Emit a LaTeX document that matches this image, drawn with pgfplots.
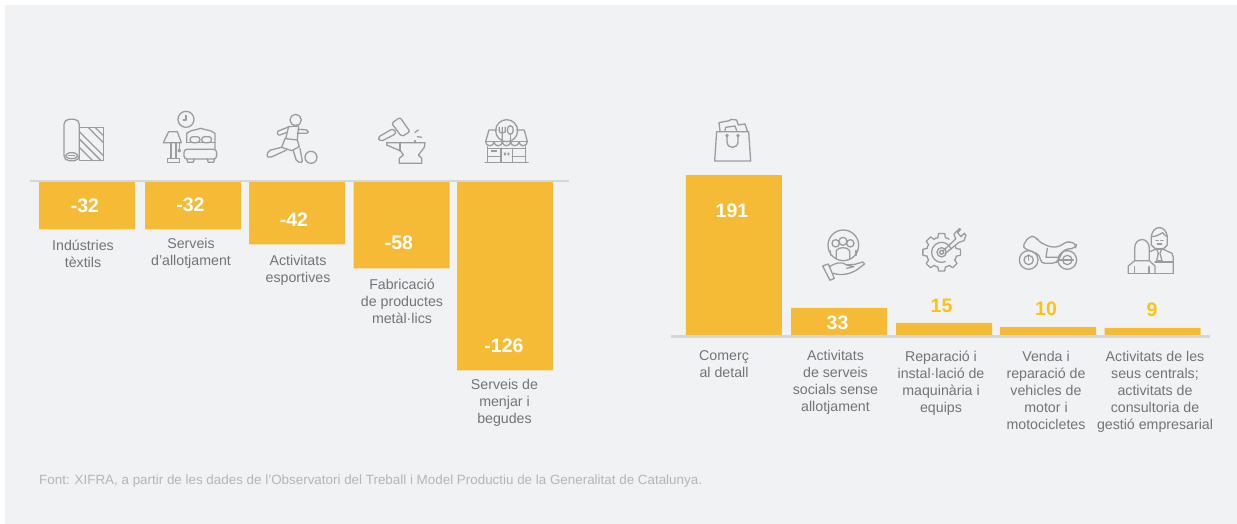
\documentclass[border=0pt]{standalone}
\usepackage{pgfplots}
\pgfplotsset{compat=1.18}
\usepackage{fontspec}
\setmainfont{Liberation Sans}
\definecolor{panel}{HTML}{F1F2F4}
\definecolor{barcol}{HTML}{F6BB36}
\definecolor{rulecol}{HTML}{D5D6D8}
\definecolor{lab}{HTML}{737477}
\definecolor{src}{HTML}{B4B5B8}
\definecolor{outlab}{HTML}{FFC20E}
\definecolor{ico}{HTML}{9B9C9E}
\tikzset{
 ic/.style={draw=ico,line width=1.3pt,line join=round,line cap=round,fill=none},
 cat/.style={text=lab,align=center,font=\fontsize{14.2}{17}\selectfont,inner sep=0pt,anchor=north},
 val/.style={text=white,font=\fontsize{19.5}{21}\selectfont\bfseries,inner sep=0pt},
 vout/.style={text=outlab,font=\fontsize{19.5}{21}\selectfont\bfseries,inner sep=0pt},
 zoomA/.style={x=0.3333pt,y=-0.3333pt,shift={(20pt,434pt)}},
 zoomB/.style={x=0.3333pt,y=-0.3333pt,shift={(340pt,434pt)}},
 zoomC/.style={x=0.3333pt,y=-0.3333pt,shift={(670pt,414pt)}},
 zoomD/.style={x=0.3333pt,y=-0.3333pt,shift={(960pt,304pt)}},
}
\pgfplotsset{
 panelaxis/.style={
  at={(0pt,0pt)},anchor=south west,scale only axis,width=1237pt,height=524pt,
  xmin=0,xmax=1237,axis lines=none,ybar,bar width=96pt,
  enlargelimits=false,
 },
}
\pgfplotstableread{
x v
87 -32
193 -32
297 -42
401.5 -58
505 -126
}\losses
\pgfplotstableread{
x v
733.8 191
839 33
944 15
1048 10
1152.5 9
}\gains
\begin{document}
\begin{tikzpicture}
\fill[white] (0pt,0pt) rectangle (1237pt,524pt);
\fill[panel] (5pt,0pt) rectangle (1237pt,519pt);
% left: baseline at pixel 181.5, 1.5 px per job
\begin{axis}[panelaxis,ymin=-228.33,ymax=121]
\addplot[fill=barcol,draw=none,bar shift=0pt] table[x=x,y=v]{\losses};
\end{axis}
% right: baseline at pixel 335.5, 0.839 px per job
\begin{axis}[panelaxis,ymin=-224.7,ymax=399.9]
\addplot[fill=barcol,draw=none,bar shift=0pt] table[x=x,y=v]{\gains};
\end{axis}
\fill[rulecol] (30.3pt,344.3pt) rectangle (569pt,341.9pt);
\fill[rulecol] (671pt,189pt) rectangle (1209.7pt,186.4pt);
% value labels
\begin{scope}[x=1pt,y=-1pt,yshift=524pt]
\node[val] at (85,206) {-32};
\node[val] at (190.5,205) {-32};
\node[val] at (294,219.5) {-42};
\node[val] at (399,243) {-58};
\node[val] at (504,346) {-126};
\node[val] at (732,211) {191};
\node[val] at (837.5,323) {33};
\node[vout] at (941.5,306) {15};
\node[vout] at (1046,309) {10};
\node[vout] at (1152,310) {9};
\node[cat] at (83,239.5) {Indústries\\tèxtils};
\node[cat] at (191,238.5) {Serveis\\d’allotjament};
\node[cat] at (298,255.5) {Activitats\\esportives};
\node[cat] at (402,278.5) {Fabricació\\de productes\\metàl·lics};
\node[cat] at (504.5,379.5) {Serveis de\\menjar i\\begudes};
\node[cat] at (724,350.5) {Comerç\\al detall};
\node[cat] at (835.5,350.5) {Activitats\\de serveis\\socials sense\\allotjament};
\node[cat] at (941,350.5) {Reparació i\\instal·lació de\\maquinària i\\equips};
\node[cat] at (1046,351.5) {Venda i\\reparació de\\vehicles de\\motor i\\motocicletes};
\node[cat] at (1155,351.5) {Activitats de les\\seus centrals;\\activitats de\\consultoria de\\gestió empresarial};
\node[text=src,anchor=west,inner sep=0pt,font=\fontsize{13.4}{15}\selectfont] at (39,481) {Font: XIFRA, a partir de les dades de l’Observatori del Treball i Model Productiu de la Generalitat de Catalunya.};
\end{scope}
% icons
\begin{scope}[zoomA]
 % fabric roll
 \draw[ic,rounded corners=5pt] (132,212) rectangle (178,88);
 \draw[ic] (155,197) ellipse (18 and 9);
 \draw[ic] (146,197)--(164,197);
 \draw[ic] (178,113) rectangle (250,212);
 \draw[ic] (178,125)--(250,197) (178,147)--(243,212) (178,172)--(218,212) (205,113)--(250,158) (226,113)--(250,137);
 % clock
 \draw[ic] (498,88) circle (24);
 \draw[ic] (498,76)--(498,90) (498,90)--(490,90);
 % lamp
 \draw[ic] (446,125)--(472,125)--(484,158)--(430,158)--cycle;
 \draw[ic] (453,158)--(453,205) (468,158)--(468,205);
 \draw[ic] (442,217) rectangle (478,205);
 \draw[ic] (478,158)--(478,178);
 \draw[ic] (478,182) circle (4);
 % bed
 \draw[ic] (500,158)--(500,130) .. controls (515,118) and (525,122) .. (542,115) .. controls (560,122) and (570,118) .. (585,130)--(585,178);
 \draw[ic,rounded corners=3pt] (510,158) rectangle (540,140);
 \draw[ic,rounded corners=3pt] (545,158) rectangle (575,140);
 \draw[ic,rounded corners=3pt] (492,178) rectangle (590,207);
 \draw[ic] (500,158)--(585,158);
 \draw[ic] (500,207)--(503,217)--(520,217)--(523,207) (562,207)--(565,217)--(581,217)--(584,207);
 % runner
 \draw[ic] (827,90) circle (17);
 \draw[ic] (806,110)--(836,108)--(832,150)--(797,146)--cycle;
 \draw[ic,rounded corners=2pt] (836,118)--(865,120)--(865,130)--(832,130);
 \draw[ic,rounded corners=2pt] (808,110)--(770,125)--(775,137)--(798,128);
 \draw[ic] (795,146)--(785,172)--(815,182)--(838,170)--(832,150);
 \draw[ic,rounded corners=2pt] (785,172)--(745,182)--(740,200)--(750,203)--(800,180);
 \draw[ic,rounded corners=2pt] (820,182)--(830,215)--(848,218)--(840,175);
 \draw[ic] (873,202) circle (18);
\end{scope}
\begin{scope}[zoomB]
 % hammer and anvil
 \draw[ic,rounded corners=2pt] (155,100)--(180,82)--(210,125)--(185,140)--cycle;
 \draw[ic,rounded corners=3pt] (112,143)--(160,115)--(170,130)--(122,155)--cycle;
 \draw[ic] (225,127)--(235,120) (232,140)--(245,142);
 \draw[ic] (140,158)--(255,158)--(253,172)--(243,185)--(235,195)--(245,205)--(245,220)--(178,220)--(178,205)--(190,195)--(182,183)--(140,165)--cycle;
 \draw[ic] (225,152)--(225,158) (180,160)--(180,183);
 % restaurant
 \draw[ic] (500,122) circle (33);
 \draw[ic] (478,112)--(478,125)..controls (480,130) and (494,130)..(496,125)--(496,112) (487,112)--(487,150);
 \draw[ic] (511,120) ellipse (9 and 13);
 \draw[ic] (511,133)--(511,150);
 \draw[ic] (447,120)--(470,120) (530,120)--(553,120) (447,120)--(437,155) (553,120)--(562,155);
 \draw[ic] (437,155)--(562,155);
 \draw[ic] (437,155) arc (180:0:12.5) arc (180:0:12.5) arc (180:0:12.5) arc (180:0:12.5) arc (180:0:12.5);
 \draw[ic] (443,170)--(443,217) (557,170)--(557,217) (435,217)--(565,217);
 \draw[ic] (443,175)--(557,175) (483,175)--(483,217) (517,175)--(517,217);
 \draw[ic] (443,200)--(483,200) (517,200)--(557,200);
 \fill[ico] (452,181) rectangle (470,185);
 \fill[ico] (492,188) rectangle (498,196) (502,188) rectangle (508,196);
\end{scope}
\begin{scope}[zoomC]
 % bag
 \draw[ic] (140,65)--(236,65)--(242,153)--(134,153)--cycle;
 \draw[ic] (171,77) circle (3.5) (204,77) circle (3.5);
 \draw[ic] (171,80)--(171,95)..controls (171,118) and (204,118)..(204,95)--(204,80);
 \draw[ic] (150,62)--(147,38)--(178,32)--(183,28)--(200,30)--(205,45)--(225,42)--(232,63);
 \draw[ic] (165,62)--(167,52)--(195,48)--(200,62);
 % people in hand
 \draw[ic] (520,406) circle (46);
 \draw[ic] (497,400) circle (11) (541,400) circle (11) (519,394) circle (12);
 \draw[ic] (499,447)--(499,422)..controls (505,410) and (533,410)..(539,422)--(539,447);
 \draw[ic] (482,436)--(482,422) (558,436)--(558,422);
 \draw[ic] (458,468)--(475,462)--(493,505)--(480,511)--cycle;
 \draw[ic] (478,470)..controls (495,460) and (515,452)..(530,465)--(555,463)--(578,456)--(584,462)--(560,480)..controls (540,492) and (515,498)..(490,490);
 \draw[ic] (530,465)--(552,470)--(530,475);
 % gear and wrench
 \begin{scope}[shift={(815,427)}]
  \draw[ic] (0,0) circle (6) circle (14);
  \draw[ic] (-18:30) arc (-18:-292:30);
  \foreach \a in {0,45,90,135,180,225,270}{
   \draw[ic] ({\a-15}:45)--({\a-9}:57)--({\a+9}:57)--({\a+15}:45)--({\a+22.5}:46)--({\a+30}:45);
  }
  \draw[ic] (-22:45)--(-15:45);
  \draw[ic] (4,-4)--(42,-40) (10,4)--(52,-30);
 \end{scope}
 \draw[ic] (857,387)--(852,372)--(868,356)--(872,358)--(863,368)--(873,380)--(883,370)--(888,376)--(882,392)--(867,397);
\end{scope}
\begin{scope}[zoomD]
 % motorbike
 \draw[ic] (206,120) circle (28) circle (14);
 \draw[ic] (322,120) circle (28) circle (14);
 \draw[ic] (206,120)--(206,104) (298,120)--(340,120);
 \draw[ic,rounded corners=4pt] (186,82)--(206,50)--(226,48)--(236,65)--(272,82)--(300,80)--(320,63)--(350,72)--(346,85)--(312,88)--(296,118)--(288,130)--(242,130)--(240,105)--cycle;
 \draw[ic] (262,85)--(258,112)--(296,112);
 % consultants
 \draw[ic] (524,122)--(524,85)..controls (524,50) and (568,50)..(568,85)--(568,122);
 \draw[ic] (505,160)--(505,138)--(524,122)--(568,122)--(585,138)--(585,160);
 \draw[ic] (523,140)--(523,160) (567,140)--(567,160);
 \draw[ic] (505,160)--(640,160);
 \draw[ic] (574,55)..controls (574,12) and (622,12)..(622,55)--(622,75)..controls (615,92) and (582,92)..(574,75)--cycle;
 \draw[ic] (574,50)..controls (590,50) and (600,42)..(608,38)..controls (612,45) and (618,48)..(622,50);
 \draw[ic] (588,62)--(595,62) (602,62)--(609,62) (592,72)--(605,72);
 \draw[ic] (570,95)--(590,86)--(606,86)--(636,100)--(640,112)--(640,160);
 \draw[ic] (590,88)--(605,88)--(600,100)--(606,122)--(590,122)--(595,100)--cycle;
 \draw[ic] (585,126)--(638,126);
\end{scope}
\end{tikzpicture}
\end{document}
